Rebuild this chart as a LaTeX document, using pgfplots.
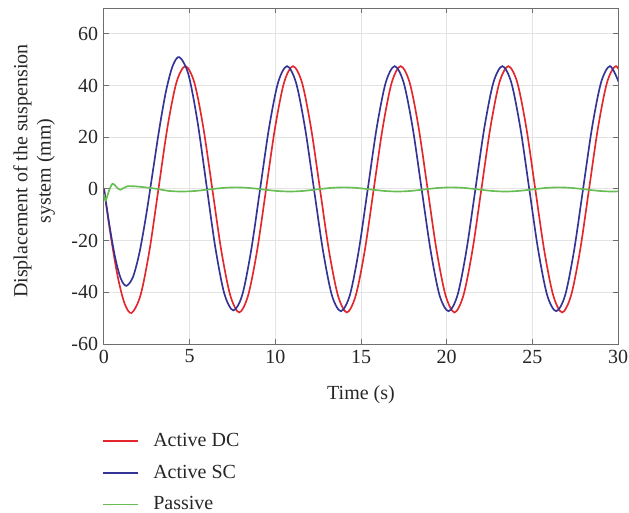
\documentclass[border=0pt]{standalone}
\usepackage{pgfplots}
\pgfplotsset{compat=1.18}
\usepackage{fontspec}
\setmainfont{Liberation Serif}

\definecolor{dcred}{RGB}{226,40,44}
\definecolor{scblue}{RGB}{52,52,150}
\definecolor{pgreen}{RGB}{104,190,84}
\definecolor{axgray}{RGB}{110,110,110}

\pgfplotstableread{
t y
0 0
0.4 -18.4
0.8 -33.9
1.2 -44.3
1.608 -48
2.132 -41.14
2.655 -23.75
3.179 0
3.702 23.75
4.226 41.14
4.750 47.5
5.274 41.14
5.797 23.75
6.321 0
6.844 -23.75
7.368 -41.14
7.891 -47.8
8.415 -41.14
8.939 -23.75
9.462 0
9.986 23.75
10.509 41.14
11.033 47.5
11.557 41.14
12.080 23.75
12.604 0
13.127 -23.75
13.651 -41.14
14.175 -47.8
14.698 -41.14
15.222 -23.75
15.745 0
16.269 23.75
16.793 41.14
17.316 47.5
17.840 41.14
18.363 23.75
18.887 0
19.410 -23.75
19.934 -41.14
20.458 -47.8
20.981 -41.14
21.505 -23.75
22.028 0
22.552 23.75
23.076 41.14
23.599 47.5
24.123 41.14
24.646 23.75
25.170 0
25.694 -23.75
26.217 -41.14
26.741 -47.8
27.264 -41.14
27.788 -23.75
28.311 0
28.835 23.75
29.359 41.14
29.882 47.5
30.406 41.14
}\dcdata

\pgfplotstableread{
t y
0 0
0.325 -14.4
0.65 -26.5
0.975 -34.6
1.3 -37.5
1.69 -34.1
2.075 -24.5
2.46 -10.2
2.85 6.75
3.24 23.7
3.625 38.0
4.01 47.6
4.4 51
4.924 44.4
5.447 26.5
5.971 2
6.494 -22.5
7.018 -40.4
7.542 -47
8.065 -41.14
8.589 -23.75
9.112 0
9.636 23.75
10.160 41.14
10.683 47.5
11.207 41.14
11.730 23.75
12.254 0
12.778 -23.75
13.301 -41.14
13.825 -47.3
14.348 -41.14
14.872 -23.75
15.396 0
15.919 23.75
16.443 41.14
16.966 47.5
17.490 41.14
18.014 23.75
18.537 0
19.061 -23.75
19.584 -41.14
20.108 -47.3
20.632 -41.14
21.155 -23.75
21.679 0
22.202 23.75
22.726 41.14
23.250 47.5
23.773 41.14
24.297 23.75
24.820 0
25.344 -23.75
25.868 -41.14
26.391 -47.3
26.915 -41.14
27.438 -23.75
27.962 0
28.486 23.75
29.009 41.14
29.533 47.5
30.056 41.14
}\scdata

\pgfplotstableread{
t y
0 -2
0.1 -4.5
0.3 -0.5
0.5 2
0.75 0.6
0.95 -0.3
1.35 1.0
2.0 0.9
3.0 0.1
3.78 -0.77
4.56 -1.0
5.35 -0.77
6.13 -0.2
6.92 0.37
7.70 0.6
8.49 0.37
9.27 -0.2
10.06 -0.77
10.84 -1.0
11.63 -0.77
12.41 -0.2
13.20 0.37
13.98 0.6
14.77 0.37
15.56 -0.2
16.34 -0.77
17.13 -1.0
17.91 -0.77
18.70 -0.2
19.48 0.37
20.27 0.6
21.06 0.37
21.84 -0.2
22.63 -0.77
23.41 -1.0
24.20 -0.77
24.98 -0.2
25.77 0.37
26.55 0.6
27.34 0.37
28.12 -0.2
28.91 -0.77
29.69 -1.0
30.48 -0.77
}\pasdata

\begin{document}
\begin{tikzpicture}
\begin{axis}[
  scale only axis, width=308.4pt, height=201.6pt,
  xmin=0, xmax=30, ymin=-60, ymax=70,
  xtick={0,5,...,30}, ytick={-60,-40,...,60},
  tick align=inside, major tick length=3pt,
  grid=major, grid style={gray!22, line width=0.6pt},
  axis line style={axgray, line width=0.6pt},
  tick style={axgray, line width=0.6pt},
  ticklabel style={font=\fontsize{12}{14}\selectfont, text=black!85},
  /pgf/number format/assume math mode=true,
  xlabel={Time (s)},
  xlabel style={font=\fontsize{12}{14}\selectfont, text=black!85, at={(axis description cs:0.5,-0.152)}, anchor=center},
  ylabel={Displacement of the suspension\\system (mm)},
  ylabel style={font=\fontsize{12}{14}\selectfont, text=black!85, align=center, at={(axis description cs:-0.136,0.515)}, anchor=center},
  legend style={at={(axis description cs:-0.004,-0.255)}, anchor=north west, draw=none, fill=none,
    inner sep=0pt, font=\fontsize{12}{14}\selectfont, text=black!85, row sep=5.5pt,
    nodes={inner sep=2pt},
    /tikz/every odd column/.append style={column sep=6.6pt}},
  legend cell align=left,
  legend image code/.code={\draw[#1, line width=1pt] (0pt,0pt) -- (21pt,0pt);},
  every axis plot/.append style={line width=1pt, smooth, no marks},
]
\addplot[dcred] table[x=t,y=y] {\dcdata};
\addlegendentry{Active DC}
\addplot[scblue] table[x=t,y=y] {\scdata};
\addlegendentry{Active SC}
\addplot[pgreen] table[x=t,y=y] {\pasdata};
\addlegendentry{Passive}
\end{axis}
\pgfresetboundingbox
\path[use as bounding box] ([xshift=-62.4pt,yshift=-101.4pt]current axis.south west) rectangle ([xshift=6.6pt,yshift=4.8pt]current axis.north east);
\end{tikzpicture}
\end{document}
